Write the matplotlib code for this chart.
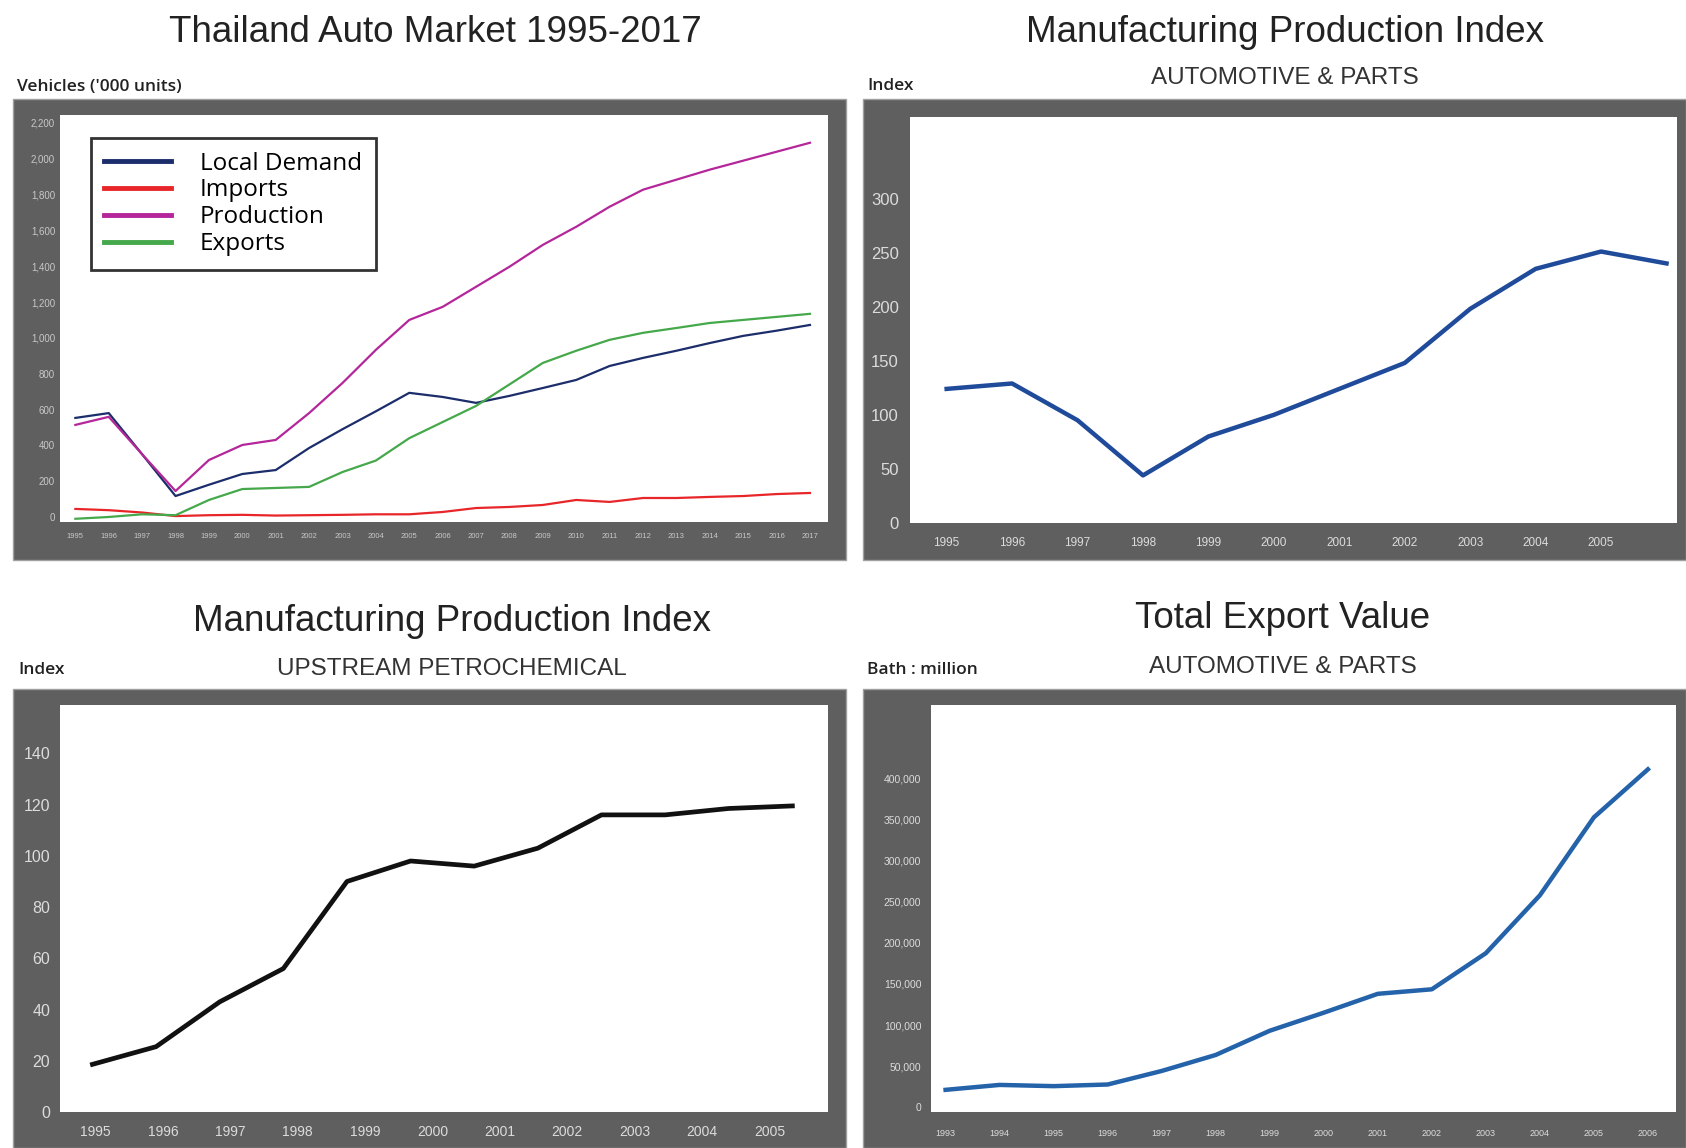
import matplotlib
matplotlib.use("Agg")
import matplotlib.pyplot as plt
from matplotlib.patches import Rectangle
import numpy as np

# ---------------- data ----------------
auto_years = list(range(1995, 2018))
local_demand = [553, 580, 350, 117, 180, 240, 262, 385, 490, 590, 693, 670, 637, 676,
                720, 765, 843, 888, 928, 971, 1011, 1040, 1072]
imports = [45, 38, 25, 5, 10, 12, 8, 10, 12, 15, 15, 28, 50, 56, 67, 95, 84, 106, 106,
           112, 117, 128, 134]
production = [514, 559, 350, 145, 318, 402, 430, 580, 748, 933, 1100, 1173, 1285, 1397,
              1519, 1620, 1732, 1827, 1883, 1939, 1989, 2039, 2089]
exports = [-10, 0, 15, 10, 95, 156, 162, 168, 251, 315, 440, 530, 620, 740, 860, 928,
           989, 1028, 1055, 1083, 1100, 1117, 1134]
auto_yticks = [0, 200, 400, 600, 800, 1000, 1200, 1400, 1600, 1800, 2000, 2200]
auto_ytick_labels = ["0", "200", "400", "600", "800", "1,000", "1,200", "1,400",
                     "1,600", "1,800", "2,000", "2,200"]

mpi_auto_years = list(range(1995, 2007))
mpi_auto = [124, 129, 95, 44, 80, 100, 124, 148, 198, 235, 251, 240]
mpi_auto_xlabels = [str(y) for y in range(1995, 2006)]
mpi_auto_yticks = [0, 50, 100, 150, 200, 250, 300]

mpi_petro = [18.6, 25.5, 43, 56, 90, 98, 96, 103, 116, 116, 118.5, 119.5]
mpi_petro_xlabels = [str(y) for y in range(1995, 2006)]
mpi_petro_yticks = [0, 20, 40, 60, 80, 100, 120, 140]

export_years = list(range(1993, 2007))
export_value = [21000, 27000, 25500, 27500, 44000, 63500, 93000, 115000, 138000,
                143500, 187500, 258000, 353000, 411500]
export_yticks = [0, 50000, 100000, 150000, 200000, 250000, 300000, 350000, 400000]
export_ytick_labels = ["0", "50,000", "100,000", "150,000", "200,000", "250,000",
                       "300,000", "350,000", "400,000"]

# ---------------- layout ----------------
W, H, DPI = 1686, 1148, 100
fig = plt.figure(figsize=(W / DPI, H / DPI), dpi=DPI)
fig.patch.set_facecolor("white")

FRAME = "#5f5f5f"
TICKC = "#dcdcdc"
TFONT = "Liberation Sans"
LFONT = "Open Sans"


def rect(x0, y0, x1, y1):
    return [x0 / W, 1 - y1 / H, (x1 - x0) / W, (y1 - y0) / H]


for (x0, y0, x1, y1) in [(13, 99, 846, 560), (863, 99, 1686, 560),
                         (13, 689, 846, 1148), (863, 689, 1686, 1148)]:
    fig.add_artist(Rectangle((x0 / W, 1 - y1 / H), (x1 - x0) / W, (y1 - y0) / H,
                             transform=fig.transFigure, facecolor=FRAME,
                             edgecolor="#a0a0a0", lw=1.0, zorder=0))


def style(ax, xsize, ysize, xpad, ypad, color=TICKC):
    ax.set_facecolor("white")
    for s in ax.spines.values():
        s.set_visible(False)
    ax.tick_params(axis="both", length=0, colors=color)
    ax.tick_params(axis="x", labelsize=xsize, pad=xpad)
    ax.tick_params(axis="y", labelsize=ysize, pad=ypad)
    for lab in ax.get_xticklabels() + ax.get_yticklabels():
        lab.set_fontfamily(TFONT)


def ftext(x, y, s, size, family=TFONT, ha="center", weight="normal", color="#222222"):
    fig.text(x / W, 1 - y / H, s, fontsize=size, family=family, ha=ha, va="center",
             weight=weight, color=color)


TITLE = 26.5
SUB = 17.5
SMALL = 12.5

# ---------- top-left: Thailand auto market ----------
ax1 = fig.add_axes(rect(60, 115, 828, 522))
ax1.plot(auto_years, local_demand, color="#1c2d6b", lw=1.6, label="Local Demand")
ax1.plot(auto_years, imports, color="#e8262a", lw=1.6, label="Imports")
ax1.plot(auto_years, production, color="#b4269a", lw=1.6, label="Production")
ax1.plot(auto_years, exports, color="#45a84a", lw=1.6, label="Exports")
ax1.set_xlim(1994.54, 2017.54)
ax1.set_ylim(-28, 2244)
ax1.set_xticks(auto_years)
ax1.set_xticklabels([str(y) for y in auto_years])
ax1.set_yticks(auto_yticks)
ax1.set_yticklabels(auto_ytick_labels)
style(ax1, 5.5, 7, 8, 3.5, color="#c8c8c8")
leg = ax1.legend(loc="upper left", bbox_to_anchor=(0.040, 0.943), borderaxespad=0,
                 frameon=True, fancybox=False, edgecolor="black", handlelength=2.75,
                 handletextpad=1.2, labelspacing=0.12, borderpad=0.55,
                 prop={"family": LFONT, "size": 17.5})
leg.get_frame().set_linewidth(2.0)
for ln in leg.get_lines():
    ln.set_linewidth(3.5)

ftext(435, 33, "Thailand Auto Market 1995-2017", TITLE)
ftext(17, 87, "Vehicles ('000 units)", SMALL, family=LFONT, ha="left", weight="semibold")

# ---------- top-right: MPI automotive ----------
ax2 = fig.add_axes(rect(910, 117, 1677, 523))
ax2.plot(mpi_auto_years, mpi_auto, color="#1f4b9a", lw=3.2, solid_joinstyle="round")
ax2.set_xlim(1994.44, 2006.16)
ax2.set_ylim(0, 375.4)
ax2.set_xticks(mpi_auto_years[:len(mpi_auto_xlabels)])
ax2.set_xticklabels(mpi_auto_xlabels)
ax2.set_yticks(mpi_auto_yticks)
style(ax2, 8.5, 12, 10, 8)

ftext(1285, 33, "Manufacturing Production Index", TITLE)
ftext(1285, 78, "AUTOMOTIVE & PARTS", SUB, color="#333333")
ftext(867, 86, "Index", SMALL, family=LFONT, ha="left", weight="semibold")

# ---------- bottom-left: MPI upstream petrochemical ----------
ax3 = fig.add_axes(rect(60, 705, 828, 1112))
idx = np.arange(len(mpi_petro))
ax3.plot(idx, mpi_petro, color="#111111", lw=3.4, solid_joinstyle="round")
ax3.set_xlim(-0.51, 11.56)
ax3.set_ylim(0, 158.9)
ax3.set_xticks(np.linspace(0.05, 10.64, len(mpi_petro_xlabels)))
ax3.set_xticklabels(mpi_petro_xlabels)
ax3.set_yticks(mpi_petro_yticks)
style(ax3, 10, 11.5, 9, 7)

ftext(452, 621, "Manufacturing Production Index", TITLE)
ftext(452, 669, "UPSTREAM PETROCHEMICAL", SUB, color="#333333")
ftext(18, 670, "Index", SMALL, family=LFONT, ha="left", weight="semibold")

# ---------- bottom-right: total export value ----------
ax4 = fig.add_axes(rect(931, 705, 1676, 1112))
ax4.plot(export_years, export_value, color="#2462aa", lw=3.2, solid_joinstyle="round")
ax4.set_xlim(1992.73, 2006.52)
ax4.set_ylim(-6000, 489900)
ax4.set_xticks(export_years)
ax4.set_xticklabels([str(y) for y in export_years])
ax4.set_yticks(export_yticks)
ax4.set_yticklabels(export_ytick_labels)
style(ax4, 6.5, 7.5, 12, 7)

ftext(1283, 619, "Total Export Value", TITLE)
ftext(1283, 667, "AUTOMOTIVE & PARTS", SUB, color="#333333")
ftext(867, 670, "Bath : million", SMALL, family=LFONT, ha="left", weight="semibold")

fig.savefig("out.png", dpi=DPI, facecolor="white")
